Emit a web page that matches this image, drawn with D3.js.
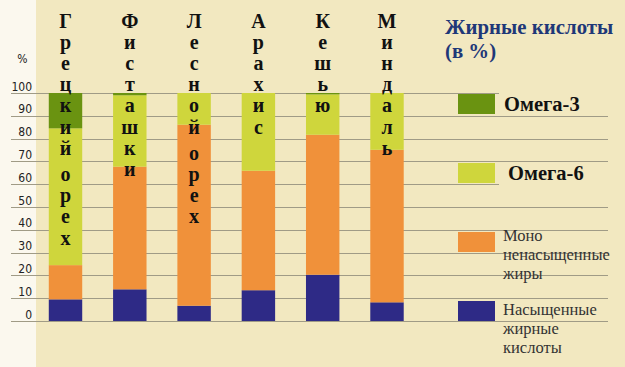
<!DOCTYPE html>
<html><head><meta charset="utf-8">
<script src="https://cdn.jsdelivr.net/npm/d3@7"></script>
<style>html,body{margin:0;padding:0;background:#f2e8c0;overflow:hidden}</style>
</head><body>
<svg id="chart" width="625" height="367"></svg>
<script>
const categories = ["Грецкий орех","Фисташки","Лесной орех","Арахис","Кешью","Миндаль"];
const saturated = [9.5, 13.9, 6.7, 13.5, 20.3, 8.2];
const mono      = [15.0, 53.8, 79.4, 52.4, 61.4, 66.9];
const omega6    = [60.0, 31.3, 13.9, 34.1, 17.7, 24.9];
const omega3    = [15.5, 1.0, 0.0, 0.0, 0.6, 0.0];
const yTicks    = [0,10,20,30,40,50,60,70,80,90,100];
const seriesKeys = ["sat","mono","o6","o3"];
const legendTitle = ["Жирные кислоты","(в %)"];
const legendLabels = {o3:["Омега-3"], o6:["Омега-6"], mono:["Моно","ненасыщенные","жиры"], sat:["Насыщенные","жирные","кислоты"]};
const colors = {sat:"#2e2a86", mono:"#f0913a", o6:"#cfd63c", o3:"#6a9311"};

const svg = d3.select("#chart");
const W = 625, H = 367;
const serif = "'Liberation Serif','Times New Roman',serif";
svg.append("rect").attr("width",W).attr("height",H).attr("fill","#f2e8c0");
svg.append("rect").attr("width",36).attr("height",H).attr("fill","#fbf8ee");

const rows = categories.map((c,i)=>({cat:c, sat:saturated[i], mono:mono[i], o6:omega6[i], o3:omega3[i]}));
const x = d3.scaleBand().domain(categories).range([33.35, 419.15]).paddingInner(0.48).paddingOuter(0.24);
const y = d3.scaleLinear().domain([0,100]).range([321, 93]);

// grid
svg.append("g").selectAll("line").data(yTicks).join("line")
  .attr("x1",11).attr("x2",608)
  .attr("y1",d=>Math.round(y(d))+0.5).attr("y2",d=>Math.round(y(d))+0.5)
  .attr("stroke","#a09b86").attr("stroke-width",1);

// y tick labels
svg.append("g").selectAll("text").data(yTicks).join("text")
  .attr("x",32).attr("y",d=>y(d)-2.5).attr("text-anchor","end")
  .attr("font-family","'DejaVu Sans Condensed','DejaVu Sans',sans-serif").attr("font-size",12)
  .attr("fill","#222").text(d=>d);
svg.append("text").attr("x",22.5).attr("y",63).attr("text-anchor","middle")
  .attr("font-family","'DejaVu Sans Condensed','DejaVu Sans',sans-serif").attr("font-size",12)
  .attr("fill","#222").text("%");

// stacked bars
const stack = d3.stack().keys(seriesKeys)(rows);
svg.append("g").selectAll("g").data(stack).join("g")
  .attr("fill",s=>colors[s.key])
  .selectAll("rect").data(s=>s).join("rect")
  .attr("x",d=>x(d.data.cat)).attr("width",x.bandwidth())
  .attr("y",d=>y(d[1])).attr("height",d=>y(d[0])-y(d[1]));

// vertical category labels
const lab = svg.append("g").attr("font-family",serif)
  .attr("font-weight","bold").attr("font-size",20).attr("fill","#111").attr("text-anchor","middle");
categories.forEach(c=>{
  let yy = 27.5;
  const cx = x(c)+x.bandwidth()/2;
  for (const ch of c) {
    if (ch === " ") { yy += 5; continue; }
    lab.append("text").attr("x",cx).attr("y",yy).text(ch);
    yy += 21.2;
  }
});

// legend title
const lt = svg.append("g").attr("font-family",serif)
  .attr("font-weight","bold").attr("font-size",20.8).attr("fill","#1f3878");
legendTitle.forEach((t,i)=>lt.append("text").attr("x",445).attr("y",34+i*24).text(t));

// legend items
const legendItems = [
  {key:"o3", sy:94, tx:504, ty:111, bold:true, cover:[89,24]},
  {key:"o6", sy:163, tx:508, ty:180, bold:true, cover:[170,18]},
  {key:"mono", sy:232, tx:503, ty:241, bold:false},
  {key:"sat", sy:301, tx:503, ty:315, bold:false}
];
const lg = svg.append("g");
legendItems.forEach(it=>{
  if (it.cover) lg.append("rect").attr("x",499).attr("y",it.cover[0]).attr("width",115).attr("height",it.cover[1]).attr("fill","#f2e8c0");
  lg.append("rect").attr("x",458).attr("y",it.sy).attr("width",37).attr("height",20).attr("fill",colors[it.key]);
  legendLabels[it.key].forEach((t,i)=>{
    lg.append("text").attr("x",it.tx).attr("y",it.ty+i*19)
      .attr("font-family",serif)
      .attr("font-weight",it.bold?"bold":"normal").attr("font-size",it.bold?20.5:16.5)
      .attr("fill",it.bold?"#111":"#333").text(t);
  });
});
</script>
</body></html>
